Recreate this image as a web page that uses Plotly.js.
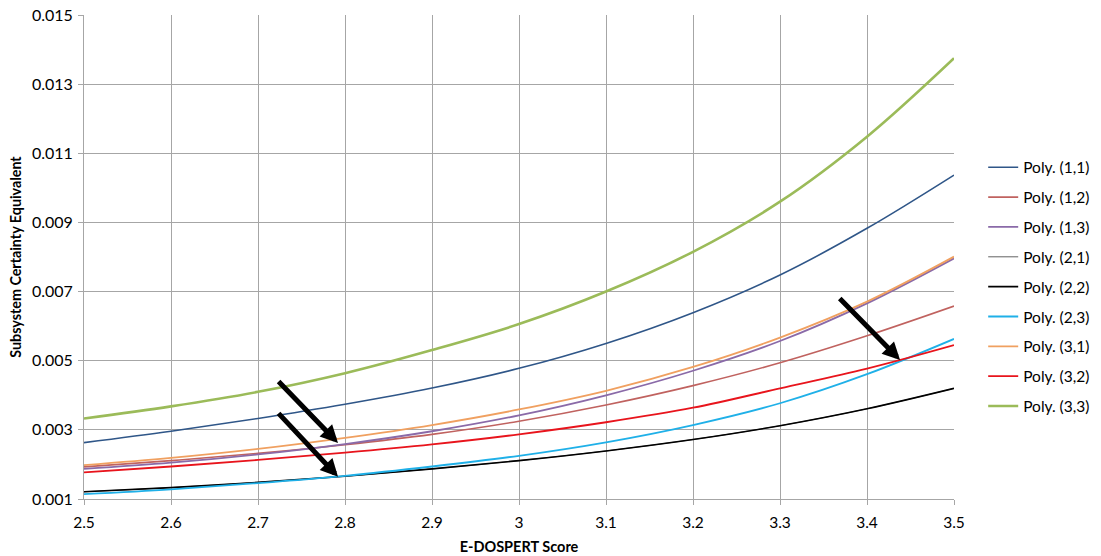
<!DOCTYPE html>
<html>
<head>
<meta charset="utf-8">
<script src="https://cdn.plot.ly/plotly-3.0.1.min.js"></script>
<style>
  html, body { margin: 0; padding: 0; background: #fff; }
  #chart { width: 1101px; height: 556px; }
</style>
</head>
<body>
<div id="chart"></div>
<script>
// E-DOSPERT score grid
const scores = [2.5, 2.6, 2.7, 2.8, 2.9, 3.0, 3.1, 3.2, 3.3, 3.4, 3.5];

// Subsystem certainty equivalent, polynomial fit per (i,j) case
const poly11 = [0.00263, 0.00296, 0.00333, 0.00374, 0.00421, 0.00478, 0.00550, 0.00639, 0.00748, 0.00883, 0.01037];
const poly12 = [0.00193, 0.00211, 0.00232, 0.00257, 0.00287, 0.00325, 0.00372, 0.00428, 0.00494, 0.00572, 0.00658];
const poly13 = [0.00187, 0.00205, 0.00229, 0.00259, 0.00296, 0.00342, 0.00400, 0.00471, 0.00557, 0.00666, 0.00796];
const poly21 = [0.00121, 0.00133, 0.00148, 0.00166, 0.00187, 0.00211, 0.00239, 0.00272, 0.00312, 0.00361, 0.00420];
const poly22 = [0.00121, 0.00133, 0.00148, 0.00166, 0.00187, 0.00211, 0.00239, 0.00272, 0.00312, 0.00361, 0.00420];
const poly23 = [0.00114, 0.00128, 0.00146, 0.00167, 0.00194, 0.00225, 0.00264, 0.00314, 0.00377, 0.00461, 0.00563];
const poly31 = [0.00198, 0.00219, 0.00245, 0.00277, 0.00314, 0.00359, 0.00413, 0.00482, 0.00567, 0.00671, 0.00801];
const poly32 = [0.00177, 0.00194, 0.00213, 0.00234, 0.00258, 0.00287, 0.00322, 0.00364, 0.00420, 0.00477, 0.00545];
const poly33 = [0.00333, 0.00368, 0.00410, 0.00464, 0.00531, 0.00606, 0.00700, 0.00815, 0.00960, 0.01148, 0.01375];

// Legend labels
const seriesNames = ['Poly. (1,1)', 'Poly. (1,2)', 'Poly. (1,3)', 'Poly. (2,1)', 'Poly. (2,2)',
                     'Poly. (2,3)', 'Poly. (3,1)', 'Poly. (3,2)', 'Poly. (3,3)'];
const seriesValues = [poly11, poly12, poly13, poly21, poly22, poly23, poly31, poly32, poly33];

// Crossing points highlighted with arrows: [tail x, tail y, head x, head y]
const arrowTails = [[2.722, 0.00444], [2.722, 0.00352], [3.367, 0.00684]];
const arrowHeads = [[2.792, 0.00262], [2.792, 0.00164], [3.438, 0.00502]];

const styles = [
  { color: '#2f5688', width: 1.6 },
  { color: '#c0625f', width: 1.6 },
  { color: '#8a6aa8', width: 1.8 },
  { color: '#3a3a3a', width: 0.8 },
  { color: '#000000', width: 1.6 },
  { color: '#1fb0e8', width: 1.8 },
  { color: '#f0a060', width: 1.8 },
  { color: '#e8141c', width: 1.8 },
  { color: '#9bbb59', width: 2.6 }
];

const traces = seriesNames.map((name, i) => ({
  x: scores,
  y: seriesValues[i],
  name: name,
  type: 'scatter',
  mode: 'lines',
  line: { color: styles[i].color, width: styles[i].width, shape: 'spline', smoothing: 1 },
  legendgroup: 'g' + i,
  hoverinfo: 'x+y+name'
}));

// Draw (2,1) first so the overlapping (2,2) curve sits on top
const drawOrder = [3, 0, 1, 2, 4, 5, 6, 7, 8];
const data = drawOrder.map(i => Object.assign({}, traces[i], { legendrank: i + 1 }));

const annotations = arrowHeads.map((h, i) => ({
  x: h[0], y: h[1], xref: 'x', yref: 'y',
  ax: arrowTails[i][0], ay: arrowTails[i][1], axref: 'x', ayref: 'y',
  showarrow: true, arrowhead: 2, arrowsize: 0.7, arrowwidth: 5,
  arrowcolor: '#000', text: ''
}));

const font = 'Lato, "Open Sans", "Liberation Sans", sans-serif';

const layout = {
  width: 1101,
  height: 556,
  margin: { l: 84, r: 147, t: 15, b: 57, autoexpand: false },
  paper_bgcolor: '#fff',
  plot_bgcolor: '#fff',
  font: { family: font, size: 15, color: '#000' },
  showlegend: true,
  legend: {
    xref: 'container', yref: 'container',
    x: 0.893, xanchor: 'left', y: 0.729, yanchor: 'top',
    traceorder: 'grouped', tracegroupgap: 6.7,
    font: { family: font, size: 15.5, color: '#000' },
    itemwidth: 30, bgcolor: 'rgba(0,0,0,0)'
  },
  xaxis: {
    range: [2.5, 3.5], tick0: 2.5, dtick: 0.1,
    showgrid: true, gridcolor: '#a6a6a6', gridwidth: 1,
    showline: true, linecolor: '#a6a6a6', linewidth: 1,
    ticks: 'outside', ticklen: 5, tickcolor: '#a6a6a6',
    ticklabelstandoff: 4,
    zeroline: false,
    tickfont: { family: font, size: 15.5 },
    title: { text: '<b>E-DOSPERT Score</b>', font: { family: font, size: 14.5 }, standoff: 12 }
  },
  yaxis: {
    range: [0.001, 0.015], tick0: 0.001, dtick: 0.002,
    showgrid: true, gridcolor: '#a6a6a6', gridwidth: 1,
    showline: true, linecolor: '#a6a6a6', linewidth: 1,
    ticks: 'outside', ticklen: 5, tickcolor: '#a6a6a6',
    ticklabelstandoff: 2,
    zeroline: false,
    tickfont: { family: font, size: 16 },
    title: { text: '<b>Subsystem Certainty Equivalent</b>', font: { family: font, size: 14.3 }, standoff: 6 }
  },
  annotations: annotations
};

Plotly.newPlot('chart', data, layout, { displayModeBar: false, staticPlot: true });
</script>
</body>
</html>
